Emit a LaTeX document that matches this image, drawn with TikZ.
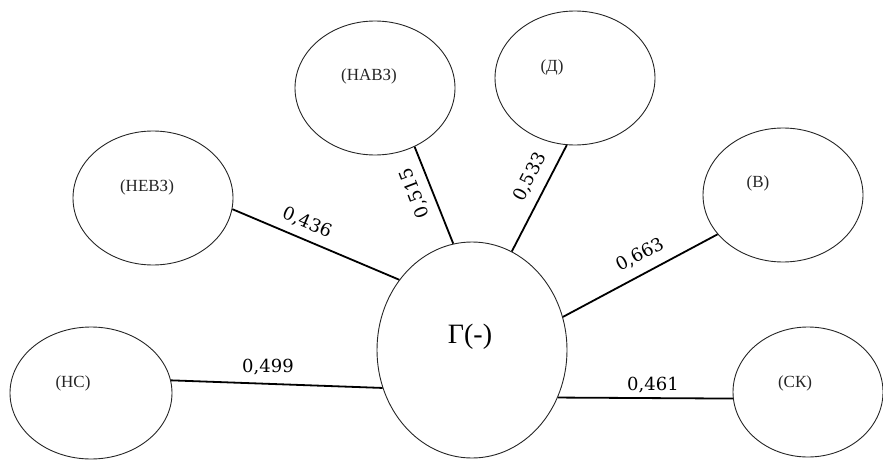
\documentclass[tikz,border=0pt]{standalone}
\usepackage{fontspec}
\setmainfont{Liberation Serif}
\newfontfamily\numfont{DejaVu Serif}
\usetikzlibrary{shapes.geometric}
\begin{document}
\begin{tikzpicture}[x=1pt,y=1pt,
  oval/.style={ellipse, draw=black!85, line width=0.9pt, inner sep=0pt, minimum width=160pt, minimum height=134pt},
  lbl/.style={font=\fontsize{17}{17}\selectfont, text=black!85, inner sep=0pt},
  wt/.style={font=\numfont\fontsize{18}{18}\selectfont, inner sep=0pt},
  link/.style={line width=1.8pt}]
\useasboundingbox (0,0) rectangle (883,459);
% nodes
\node[oval, minimum width=190pt, minimum height=216pt] (g) at (472,109) {};
\node[oval] (hab) at (375,371) {};
\node[oval] (d) at (575,381) {};
\node[oval] (heb) at (153,261) {};
\node[oval] (b) at (783,264) {};
\node[oval, minimum width=162pt, minimum height=132pt] (hc) at (91,66) {};
\node[oval, minimum width=150pt, minimum height=130pt] (ck) at (808,67) {};
% texts
\node[inner sep=0pt, font=\fontsize{28}{28}\selectfont] (gt) at (470,122) {Г(-)};
\node[lbl] (tHab) at (369,383) {(НАВЗ)};
\node[lbl] (tD) at (552,392) {(Д)};
\node[lbl] (tHeb) at (147,272) {(НЕВЗ)};
\node[lbl] (tB) at (758,276) {(В)};
\node[lbl] (tHc) at (73,76) {(НС)};
\node[lbl] (tCk) at (795,76) {(СК)};
% connectors
\draw[link] (heb.-8.5) -- (g.136);
\draw[link] (hab.-56) -- (g.100);
\draw[link] (d.-97) -- (g.68);
\draw[link] (g.20) -- (b.211);
\draw[link] (hc.9) -- (g.203);
\draw[link] (g.-29) -- (ck.185);
% weights
\node[wt, rotate=-23] (w1) at (307,236) {0,436};
\node[wt, rotate=111] (w2) at (415,266) {0,515};
\node[wt, rotate=63] (w3) at (530,282) {0,533};
\node[wt, rotate=28] (w4) at (640,204) {0,663};
\node[wt] (w5) at (268,92) {0,499};
\node[wt] (w6) at (653,74) {0,461};
\end{tikzpicture}
\end{document}
